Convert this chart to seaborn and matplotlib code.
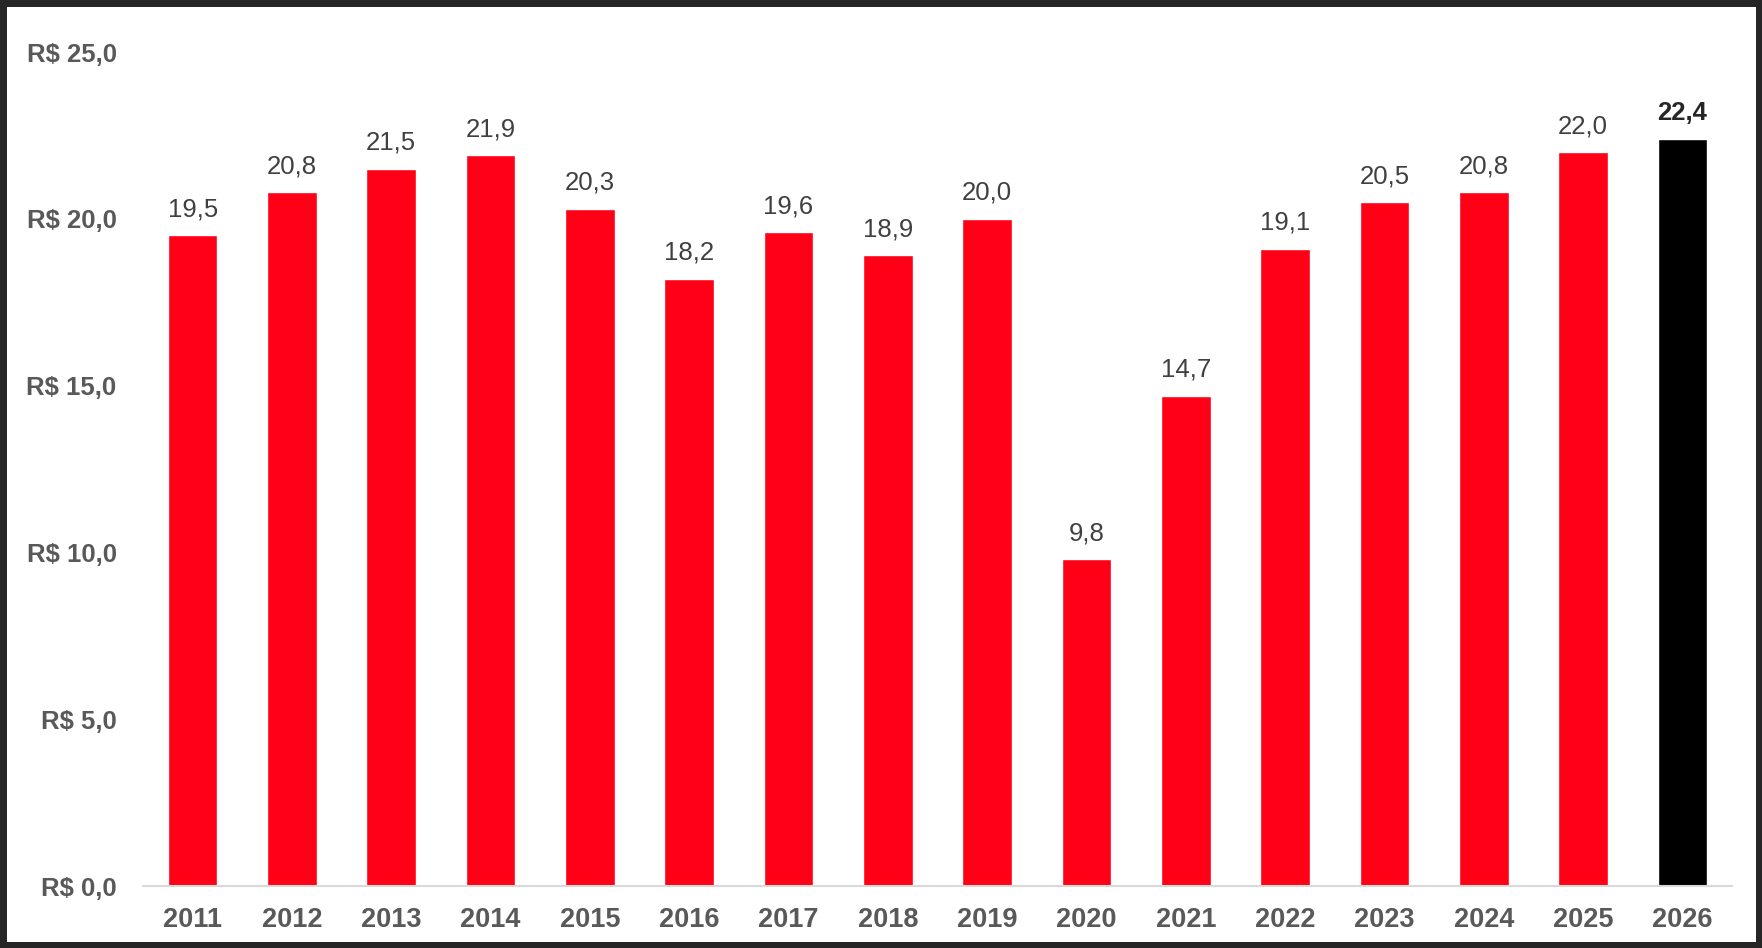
import numpy as np
import pandas as pd
import matplotlib.pyplot as plt
import seaborn as sns

years = [str(y) for y in range(2011, 2027)]
values = [19.5, 20.8, 21.5, 21.9, 20.3, 18.2, 19.6, 18.9, 20.0, 9.8, 14.7, 19.1, 20.5, 20.8, 22.0, 22.4]
y_ticks = [0, 5, 10, 15, 20, 25]
bar_colors = ["#FF0016"] * 15 + ["#000000"]

sns.set_style("white")
plt.rcParams['font.family'] = ['Liberation Sans', 'DejaVu Sans']

df = pd.DataFrame({"ano": years, "valor": values})

fig = plt.figure(figsize=(17.62, 9.48), dpi=100)
fig.patch.set_edgecolor("#262626")
fig.patch.set_linewidth(8)
ax = fig.add_axes([143 / 1762, 62 / 948, (1732 - 143) / 1762, (886 - 52) / 948])

sns.barplot(data=df, x="ano", y="valor", hue="ano", palette=bar_colors,
            legend=False, width=0.5, saturation=1, ax=ax)

ax.set_ylim(0, 25)
ax.set_xlim(-0.5, len(years) - 0.5)
ax.set_yticks(y_ticks)
ax.set_yticklabels([f"R$ {t:.1f}".replace(".", ",") for t in y_ticks])
ax.set_xlabel("")
ax.set_ylabel("")
sns.despine(ax=ax, left=True)
ax.spines["bottom"].set_color("#D9D9D9")
ax.spines["bottom"].set_linewidth(1.5)
ax.tick_params(axis="y", length=0, pad=19, labelsize=18.5, labelcolor="#595959")
ax.tick_params(axis="x", length=0, pad=15, labelsize=19.5, labelcolor="#595959")
for lbl in ax.get_yticklabels() + ax.get_xticklabels():
    lbl.set_fontweight("bold")

for i, v in enumerate(values):
    last = i == len(values) - 1
    ax.annotate(f"{v:.1f}".replace(".", ","), (i, v), xytext=(0, 10),
                textcoords="offset points", ha="center", va="bottom",
                fontsize=18.5, color="#262626" if last else "#404040",
                fontweight="bold" if last else "normal")

fig.savefig("out.png", dpi=100)
